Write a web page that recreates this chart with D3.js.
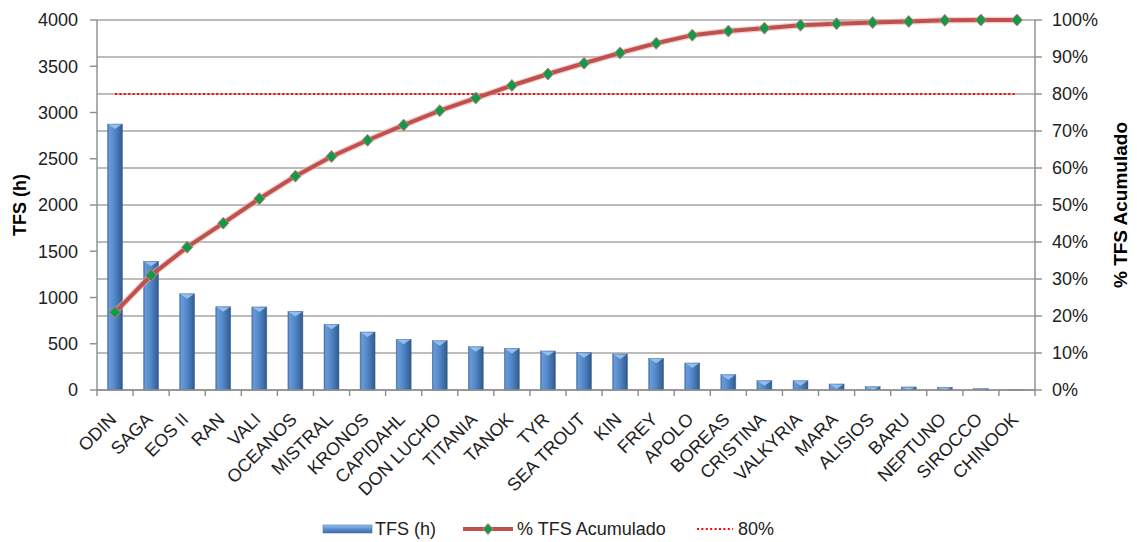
<!DOCTYPE html>
<html><head><meta charset="utf-8">
<script src="https://cdn.jsdelivr.net/npm/d3@7"></script>
<style>body{margin:0;background:#fff}svg{display:block;font-family:"Liberation Sans",Arial,sans-serif}</style>
</head><body><svg id="c" width="1137" height="542"></svg>
<script>
const categories = ["ODIN","SAGA","EOS II","RAN","VALI","OCEANOS","MISTRAL","KRONOS","CAPIDAHL","DON LUCHO","TITANIA","TANOK","TYR","SEA TROUT","KIN","FREY","APOLO","BOREAS","CRISTINA","VALKYRIA","MARA","ALISIOS","BARU","NEPTUNO","SIROCCO","CHINOOK"];
const tfsHours = [2875,1392,1040,900,898,850,710,627,548,533,468,450,422,404,389,342,292,166,101,100,65,36,33,30,15,3];
const cumPct = [21.0,31.0,38.6,45.1,51.7,57.8,63.1,67.5,71.6,75.5,78.9,82.3,85.4,88.3,91.1,93.7,95.9,97.0,97.8,98.6,99.0,99.3,99.6,99.9,100,100];
const leftTicks = [0,500,1000,1500,2000,2500,3000,3500,4000];
const rightTicks = [0,10,20,30,40,50,60,70,80,90,100];
const threshold = 80;
const legendLabels = ["TFS (h)","% TFS Acumulado","80%"];
const leftTitle = "TFS (h)", rightTitle = "% TFS Acumulado";

const svg = d3.select("#c");
const L=97,R=1035,T=20,B=390;
const x = d3.scaleBand().domain(categories).range([L,R]).padding(0);
const y = d3.scaleLinear().domain([0,4000]).range([B,T]);
const yR = d3.scaleLinear().domain([0,100]).range([B,T]);
const cx = d => x(d)+x.bandwidth()/2;

const defs = svg.append("defs");
const g1 = defs.append("linearGradient").attr("id","barG").attr("x1","0").attr("x2","1").attr("y1","0").attr("y2","0");
[[0,"#3f6ea8"],[0.12,"#6a9ad6"],[0.45,"#5389cb"],[0.85,"#3c679e"],[1,"#2f5684"]].forEach(s=>g1.append("stop").attr("offset",s[0]).attr("stop-color",s[1]));
const g2 = defs.append("linearGradient").attr("id","legG").attr("x1","0").attr("x2","0").attr("y1","0").attr("y2","1");
[[0,"#9cc0ee"],[0.5,"#5d8fd0"],[1,"#3d6aa5"]].forEach(s=>g2.append("stop").attr("offset",s[0]).attr("stop-color",s[1]));

// gridlines (right axis steps)
svg.append("g").selectAll("line").data(rightTicks).join("line")
  .attr("x1",L).attr("x2",R).attr("y1",d=>yR(d)).attr("y2",d=>yR(d))
  .attr("stroke","#a6a6a6").attr("stroke-width",1.4);

// bars
const bw = 15;
const bars = svg.append("g");
categories.forEach((c,i)=>{
  const v=tfsHours[i]; if(v<=0) return;
  const x0=cx(c)-bw/2, y0=y(v), h=B-y0;
  bars.append("rect").attr("x",x0).attr("y",y0).attr("width",bw).attr("height",h).attr("fill","url(#barG)")
    .attr("stroke","#4a78b0").attr("stroke-width",0.5);
  const cap=Math.min(5,h);
  bars.append("path").attr("d",`M${x0+1},${y0+0.5}L${x0+bw-1},${y0+0.5}L${cx(c)},${y0+cap}Z`).attr("fill","#9cc3f2").attr("opacity",0.9);
});

// axes
const axG = svg.append("g").attr("stroke","#8c8c8c").attr("stroke-width",1.4);
axG.append("line").attr("x1",L).attr("x2",L).attr("y1",T).attr("y2",B);
axG.append("line").attr("x1",R).attr("x2",R).attr("y1",T).attr("y2",B);
axG.append("line").attr("x1",L).attr("x2",R).attr("y1",B).attr("y2",B);
axG.selectAll(".lt").data(leftTicks).join("line").attr("x1",L-7).attr("x2",L).attr("y1",d=>y(d)).attr("y2",d=>y(d));
axG.selectAll(".rt").data(rightTicks).join("line").attr("x1",R).attr("x2",R+7).attr("y1",d=>yR(d)).attr("y2",d=>yR(d));
axG.selectAll(".bt").data(d3.range(categories.length+1)).join("line")
  .attr("x1",i=>L+i*x.bandwidth()).attr("x2",i=>L+i*x.bandwidth()).attr("y1",B).attr("y2",B+6);

svg.append("g").selectAll("text").data(leftTicks).join("text")
  .attr("x",78).attr("y",d=>y(d)).attr("dy","0.36em").attr("text-anchor","end")
  .attr("font-size",18).attr("fill","#222").text(d=>d);
svg.append("g").selectAll("text").data(rightTicks).join("text")
  .attr("x",1052).attr("y",d=>yR(d)).attr("dy","0.36em").attr("text-anchor","start")
  .attr("font-size",18).attr("fill","#222").text(d=>d+"%");
svg.append("g").selectAll("text").data(categories).join("text")
  .attr("transform",d=>`translate(${cx(d)-2},${416}) rotate(-45)`).attr("dy","0.35em")
  .attr("text-anchor","end").attr("font-size",18).attr("fill","#222").text(d=>d);

svg.append("text").attr("transform",`translate(20,${(T+B)/2}) rotate(-90)`).attr("dy","0.35em")
  .attr("text-anchor","middle").attr("font-size",18).attr("font-weight","bold").text(leftTitle);
svg.append("text").attr("transform",`translate(1120,${(T+B)/2}) rotate(-90)`).attr("dy","0.35em")
  .attr("text-anchor","middle").attr("font-size",19).attr("font-weight","bold").text(rightTitle);

// 80% line
svg.append("line").attr("x1",cx(categories[0])).attr("x2",cx(categories[categories.length-1]))
  .attr("y1",yR(threshold)).attr("y2",yR(threshold)).attr("stroke","#ff0000").attr("stroke-width",2).attr("stroke-dasharray","2,2.4");

// cumulative line
const line = d3.line().x((d,i)=>cx(categories[i])).y(d=>yR(d));
svg.append("path").attr("d",line(cumPct)).attr("fill","none").attr("stroke","#e8b0ae").attr("stroke-width",6.5).attr("opacity",0.6);
svg.append("path").attr("d",line(cumPct)).attr("fill","none").attr("stroke","#c0504d").attr("stroke-width",4);
const diamond = (px,py,w,h)=>`M${px},${py-h}L${px+w},${py}L${px},${py+h}L${px-w},${py}Z`;
svg.append("g").selectAll("path").data(cumPct).join("path")
  .attr("d",(d,i)=>diamond(cx(categories[i]),yR(d),5.5,6))
  .attr("fill","#129a48").attr("stroke","#c9807c").attr("stroke-width",1);

// legend
const lg = svg.append("g").attr("font-size",18).attr("fill","#222");
lg.append("rect").attr("x",323).attr("y",525).attr("width",49).attr("height",8).attr("fill","url(#legG)").attr("stroke","#4a78b0").attr("stroke-width",0.6);
lg.append("text").attr("x",375).attr("y",529).attr("dy","0.36em").text(legendLabels[0]);
lg.append("line").attr("x1",463).attr("x2",513).attr("y1",529).attr("y2",529).attr("stroke","#c0504d").attr("stroke-width",4);
lg.append("path").attr("d",diamond(488,529,5,5.5)).attr("fill","#129a48").attr("stroke","#c9807c");
lg.append("text").attr("x",517).attr("y",529).attr("dy","0.36em").text(legendLabels[1]);
lg.append("line").attr("x1",697).attr("x2",733).attr("y1",529).attr("y2",529).attr("stroke","#ff0000").attr("stroke-width",2).attr("stroke-dasharray","2,2.4");
lg.append("text").attr("x",738).attr("y",529).attr("dy","0.36em").text(legendLabels[2]);
</script></body></html>
